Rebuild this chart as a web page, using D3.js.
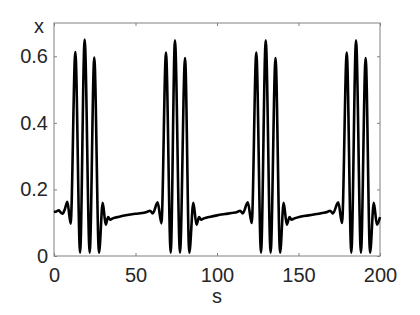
<!DOCTYPE html>
<html>
<head>
<meta charset="utf-8">
<script src="https://cdn.jsdelivr.net/npm/d3@7"></script>
<style>
  html, body { margin: 0; padding: 0; background: #fff; }
  svg { display: block; }
</style>
</head>
<body>
<div id="chart"></div>
<script>
// Values (s, x)
const sValues = [
    0, 1.5, 3, 4.3, 5.3, 6.6, 8.2, 10.2,
    13.1, 16.0, 18.8, 21.9, 24.7, 27.6, 29.9, 31.7, 33.2, 34.5,
    36, 40, 45, 50, 54, 56.9, 58.9, 60.6, 63.6, 65.9,
    68.7, 71.6, 74.2, 77.3, 80.4, 83.0, 85.5, 87.4, 89.0, 90.2,
    92, 96, 100, 105, 109, 112.4, 114.2, 115.8, 118.9, 121.3,
    124.1, 127.0, 129.9, 132.9, 135.9, 138.7, 140.9, 142.8, 144.5, 145.7,
    147.5, 151, 156, 161, 164.5, 167.6, 169.4, 171.1, 174.4, 176.7,
    179.6, 182.4, 185.3, 188.3, 191.2, 193.9, 196.2, 198.1, 200
];
const xValues = [
    0.132, 0.134, 0.137, 0.130, 0.127, 0.140, 0.163, 0.097,
    0.613, 0.010, 0.650, 0.010, 0.596, 0.010, 0.160, 0.094, 0.117, 0.109,
    0.113, 0.118, 0.123, 0.127, 0.129, 0.132, 0.136, 0.128, 0.161, 0.098,
    0.611, 0.010, 0.648, 0.010, 0.595, 0.010, 0.160, 0.094, 0.117, 0.109,
    0.113, 0.118, 0.122, 0.126, 0.129, 0.132, 0.136, 0.128, 0.161, 0.099,
    0.611, 0.010, 0.648, 0.010, 0.595, 0.010, 0.160, 0.094, 0.117, 0.109,
    0.113, 0.118, 0.122, 0.126, 0.129, 0.132, 0.136, 0.128, 0.161, 0.099,
    0.611, 0.010, 0.648, 0.010, 0.595, 0.010, 0.160, 0.094, 0.117
];
const xTicks = [0, 50, 100, 150, 200];
const yTicks = [0, 0.2, 0.4, 0.6];

const width = 420, height = 315;
const margin = { top: 23, right: 40, bottom: 59, left: 54 };
const fontFamily = "'Liberation Sans', Arial, Helvetica, sans-serif";
const textColor = "#262626";
const axisColor = "#808080";

const data = sValues.map((s, i) => ({ s: s, x: xValues[i] }));

const svg = d3.select("#chart").append("svg")
    .attr("width", width)
    .attr("height", height)
    .attr("viewBox", [0, 0, width, height]);

const xScale = d3.scaleLinear()
    .domain([0, 200])
    .range([margin.left, width - margin.right]);

const yScale = d3.scaleLinear()
    .domain([0, 0.7])
    .range([height - margin.bottom, margin.top]);

// Bottom axis (ticks pointing inside)
const xAxis = svg.append("g")
    .attr("transform", `translate(0,${height - margin.bottom})`)
    .call(d3.axisBottom(xScale).tickValues(xTicks).tickSizeInner(-3).tickSizeOuter(0).tickPadding(12).tickFormat(d3.format("d")));

// Top axis ticks (mirror)
svg.append("g")
    .attr("transform", `translate(0,${margin.top})`)
    .call(d3.axisTop(xScale).tickValues(xTicks).tickSizeInner(-3).tickSizeOuter(0).tickFormat(""));

// Left axis
const yAxis = svg.append("g")
    .attr("transform", `translate(${margin.left},0)`)
    .call(d3.axisLeft(yScale).tickValues(yTicks).tickSizeInner(-3).tickSizeOuter(0).tickPadding(6).tickFormat(d => d === 0 ? "0" : d3.format(".1f")(d)));

// Right axis ticks (mirror)
svg.append("g")
    .attr("transform", `translate(${width - margin.right},0)`)
    .call(d3.axisRight(yScale).tickValues(yTicks).tickSizeInner(-3).tickSizeOuter(0).tickFormat(""));

svg.selectAll(".domain").remove();
svg.selectAll(".tick line").attr("stroke", axisColor);
svg.selectAll(".tick text")
    .attr("fill", textColor)
    .style("font-family", fontFamily)
    .style("font-size", "20px");

// Box
svg.append("rect")
    .attr("x", xScale(0))
    .attr("y", yScale(0.7))
    .attr("width", xScale(200) - xScale(0))
    .attr("height", yScale(0) - yScale(0.7))
    .attr("fill", "none")
    .attr("stroke", axisColor)
    .attr("stroke-width", 1);

// The series
const line = d3.line()
    .x(d => xScale(d.s))
    .y(d => yScale(d.x))
    .curve(d3.curveMonotoneX);

svg.append("path")
    .datum(data)
    .attr("fill", "none")
    .attr("stroke", "#000")
    .attr("stroke-width", 2.6)
    .attr("stroke-linejoin", "round")
    .attr("d", line);

// Axis labels
svg.append("text")
    .attr("x", 39)
    .attr("y", 33)
    .attr("text-anchor", "middle")
    .attr("fill", textColor)
    .style("font-family", fontFamily)
    .style("font-size", "20px")
    .text("x");

svg.append("text")
    .attr("x", (xScale(0) + xScale(200)) / 2)
    .attr("y", 303)
    .attr("text-anchor", "middle")
    .attr("fill", textColor)
    .style("font-family", fontFamily)
    .style("font-size", "20px")
    .text("s");
</script>
</body>
</html>
